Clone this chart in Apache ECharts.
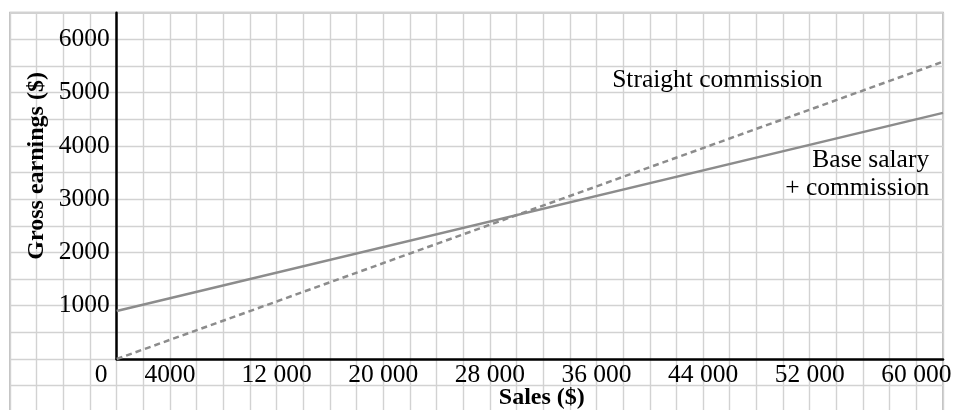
<!DOCTYPE html>
<html>
<head>
<meta charset="utf-8">
<script src="https://cdn.jsdelivr.net/npm/echarts@6/dist/echarts.min.js"></script>
<style>
html,body{margin:0;padding:0;background:#fff;}
#chart{width:954px;height:410px;}
</style>
</head>
<body>
<div id="chart"></div>
<script>
// ---- data ----
const salesX = [0, 62000];
const straightCommission = [0, 5580];
const baseSalaryCommission = [900, 4620];
const xTickValues = [0, 4000, 12000, 20000, 28000, 36000, 44000, 52000, 60000];
const xTickLabels = ['0', '4000', '12 000', '20 000', '28 000', '36 000', '44 000', '52 000', '60 000'];
const yTickValues = [1000, 2000, 3000, 4000, 5000, 6000];
const yTickLabels = ['1000', '2000', '3000', '4000', '5000', '6000'];
const seriesNames = ['Straight commission', 'Base salary\n+ commission'];

const FONT = '"Liberation Serif", "Times New Roman", serif';
const FS = 25.5;
const LINE_COLOR = '#8c8c8c';
const PAPER = '#d2d2d2';

const chart = echarts.init(document.getElementById('chart'), null, {renderer: 'canvas'});

const option = {
  animation: false,
  backgroundColor: '#fff',
  grid: [
    {left: 10, right: 11, top: 12.7, bottom: -2.3, show: true, borderColor: '#c2c2c2', borderWidth: 2, backgroundColor: 'transparent', containLabel: false, outerBoundsMode: 'none'},
    {left: 116.7, right: 11, top: 12.7, bottom: 51, containLabel: false, outerBoundsMode: 'none'}
  ],
  xAxis: [
    {
      gridIndex: 0, type: 'value', min: -8000, max: 62000, interval: 2000,
      axisLine: {show: false}, axisTick: {show: false}, axisLabel: {show: false},
      splitLine: {show: true, lineStyle: {color: PAPER, width: 1.4}}
    },
    {
      gridIndex: 1, type: 'value', min: 0, max: 62000, interval: 4000,
      name: 'Sales ($)', nameLocation: 'middle', nameGap: 27, nameMoveOverlap: false,
      nameTextStyle: {fontFamily: FONT, fontSize: 24, fontWeight: 'bold', color: '#000', padding: [0, 0, 0, 24]},
      axisLine: {show: true, lineStyle: {color: '#000', width: 2.5}},
      axisTick: {show: false},
      splitLine: {show: false},
      axisLabel: {
        show: true, margin: 3, fontFamily: FONT, fontSize: FS, color: '#000',
        showMinLabel: true, showMaxLabel: true, hideOverlap: false,
        formatter: function (v) {
          const i = xTickValues.indexOf(v);
          if (i < 0) return '';
          if (v === 0) return '{z|' + xTickLabels[i] + '}';
          return xTickLabels[i];
        },
        rich: {z: {fontFamily: FONT, fontSize: FS, color: '#000', padding: [0, 31, 0, 0]}}
      }
    }
  ],
  yAxis: [
    {
      gridIndex: 0, type: 'value', min: -1000, max: 6500, interval: 500,
      axisLine: {show: false}, axisTick: {show: false}, axisLabel: {show: false},
      splitLine: {show: true, lineStyle: {color: PAPER, width: 1.4}}
    },
    {
      gridIndex: 1, type: 'value', min: 0, max: 6500, interval: 1000,
      name: 'Gross earnings ($)', nameLocation: 'middle', nameGap: 68, nameRotate: 90, nameMoveOverlap: false,
      nameTextStyle: {fontFamily: FONT, fontSize: 24, fontWeight: 'bold', color: '#000', padding: [0, 0, 0, 40]},
      axisLine: {show: true, lineStyle: {color: '#000', width: 2.5}},
      axisTick: {show: false},
      splitLine: {show: false},
      axisLabel: {
        show: true, margin: 7, fontFamily: FONT, fontSize: FS, color: '#000',
        formatter: function (v) {
          const i = yTickValues.indexOf(v);
          return i < 0 ? '' : yTickLabels[i];
        }
      }
    }
  ],
  series: [
    {
      name: seriesNames[0], type: 'line', xAxisIndex: 1, yAxisIndex: 1,
      data: salesX.map((x, i) => [x, straightCommission[i]]),
      symbol: 'none', lineStyle: {color: LINE_COLOR, width: 2.5, type: [6, 4]},
      markPoint: {
        symbol: 'circle', symbolSize: 1, itemStyle: {color: 'rgba(0,0,0,0)'},
        data: [{coord: [53000, 5230], value: 0}],
        label: {show: true, position: 'left', distance: 0, formatter: seriesNames[0], fontFamily: FONT, fontSize: FS, color: '#000'}
      }
    },
    {
      name: seriesNames[1], type: 'line', xAxisIndex: 1, yAxisIndex: 1,
      data: salesX.map((x, i) => [x, baseSalaryCommission[i]]),
      symbol: 'none', lineStyle: {color: LINE_COLOR, width: 2.5},
      markPoint: {
        symbol: 'circle', symbolSize: 1, itemStyle: {color: 'rgba(0,0,0,0)'},
        data: [{coord: [61000, 3470], value: 0}],
        label: {show: true, position: 'left', distance: 0, align: 'right', lineHeight: 28, formatter: seriesNames[1], fontFamily: FONT, fontSize: FS, color: '#000'}
      }
    }
  ]
};
chart.setOption(option);
</script>
</body>
</html>
